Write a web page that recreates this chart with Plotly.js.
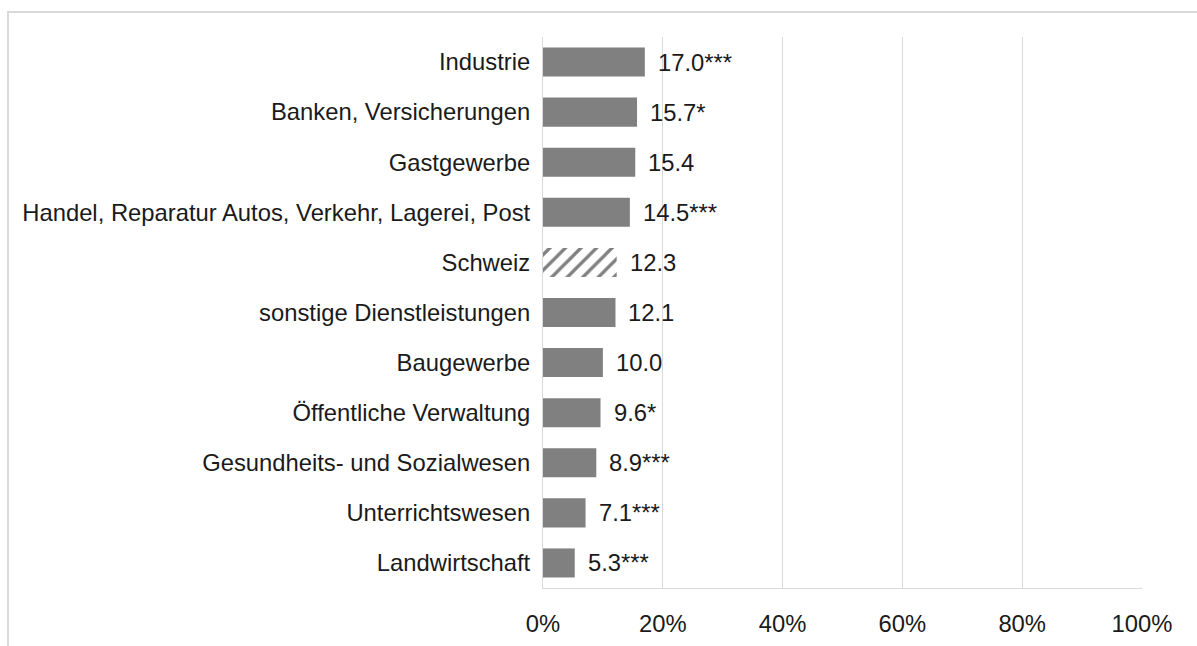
<!DOCTYPE html>
<html>
<head>
<meta charset="utf-8">
<script src="https://cdn.plot.ly/plotly-3.0.1.min.js"></script>
<style>
  html, body { margin: 0; padding: 0; background: #ffffff; overflow: hidden; }
  #frame { position: absolute; left: 7px; top: 11px; width: 1400px; height: 800px; border: 2px solid #d9d9d9; }
  #chart { position: absolute; left: 0; top: 0; width: 1197px; height: 646px; }
</style>
</head>
<body>
<div id="frame"></div>
<div id="chart"></div>
<script>
const categories = [
  "Industrie",
  "Banken, Versicherungen",
  "Gastgewerbe",
  "Handel, Reparatur Autos, Verkehr, Lagerei, Post",
  "Schweiz",
  "sonstige Dienstleistungen",
  "Baugewerbe",
  "Öffentliche Verwaltung",
  "Gesundheits- und Sozialwesen",
  "Unterrichtswesen",
  "Landwirtschaft"
];
const values = [17.0, 15.7, 15.4, 14.5, 12.3, 12.1, 10.0, 9.6, 8.9, 7.1, 5.3];
const significance = ["***", "*", "", "***", "", "", "", "*", "***", "***", "***"];
const hatched = [false, false, false, false, true, false, false, false, false, false, false];
const xTickValues = [0, 20, 40, 60, 80, 100];
const xTickLabels = ["0%", "20%", "40%", "60%", "80%", "100%"];

const FONT = "'Liberation Sans', Arial, sans-serif";
const FS = 23.8;
const TXT = "#1a1a1a";
const barGray = "#808080";

const solidTrace = {
  type: "bar",
  orientation: "h",
  x: values.map((v, i) => hatched[i] ? null : v),
  y: categories,
  marker: { color: barGray, line: { width: 0 } },
  hoverinfo: "skip",
  showlegend: false
};

const hatchTrace = {
  type: "bar",
  orientation: "h",
  x: values.map((v, i) => hatched[i] ? v : null),
  y: categories,
  marker: {
    color: "#ffffff",
    line: { width: 0 },
    pattern: {
      shape: "/",
      fgcolor: barGray,
      bgcolor: "#ffffff",
      size: 11,
      solidity: 0.3,
      fillmode: "replace"
    }
  },
  hoverinfo: "skip",
  showlegend: false
};

const annotations = values.map((v, i) => ({
  x: v,
  y: categories[i],
  xref: "x",
  yref: "y",
  text: v.toFixed(1) + significance[i],
  showarrow: false,
  xanchor: "left",
  yanchor: "middle",
  xshift: 11,
  font: { family: FONT, size: FS, color: TXT }
}));

const layout = {
  width: 1197,
  height: 646,
  margin: { l: 543, r: 55, t: 37, b: 58, pad: 0 },
  paper_bgcolor: "rgba(0,0,0,0)",
  plot_bgcolor: "rgba(0,0,0,0)",
  barmode: "overlay",
  bargap: 0.42,
  font: { family: FONT, size: FS, color: TXT },
  xaxis: {
    range: [0, 100],
    tickvals: xTickValues,
    ticktext: xTickLabels,
    showgrid: true,
    gridcolor: "#d9d9d9",
    gridwidth: 1,
    zeroline: false,
    showline: true,
    linecolor: "#d9d9d9",
    linewidth: 1,
    ticks: "outside",
    ticklen: 14,
    tickcolor: "rgba(0,0,0,0)",
    tickfont: { family: FONT, size: FS, color: TXT },
    fixedrange: true
  },
  yaxis: {
    autorange: "reversed",
    type: "category",
    categoryorder: "array",
    categoryarray: categories,
    showgrid: false,
    zeroline: false,
    showline: true,
    linecolor: "#d9d9d9",
    linewidth: 1,
    ticks: "outside",
    ticklen: 7,
    tickcolor: "rgba(0,0,0,0)",
    tickfont: { family: FONT, size: FS, color: TXT },
    fixedrange: true
  },
  annotations: annotations
};

Plotly.newPlot("chart", [solidTrace, hatchTrace], layout, { displayModeBar: false, staticPlot: true });
</script>
</body>
</html>
